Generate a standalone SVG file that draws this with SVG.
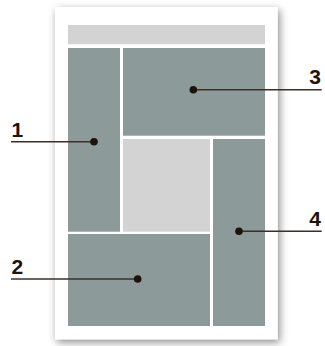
<svg xmlns="http://www.w3.org/2000/svg" width="325" height="346" viewBox="0 0 325 346">
<defs>
<filter id="sh" x="-20%" y="-20%" width="140%" height="140%">
<feDropShadow dx="2" dy="3" stdDeviation="4" flood-color="#000" flood-opacity="0.45"/>
</filter>
</defs>
<style>
.panel{fill:#8c9a99}
.light{fill:#d3d3d3}
.dot{fill:#1e120a}
.lead{stroke:#3a2f29;stroke-width:1.5;fill:none}
.lbl{font-family:"Liberation Sans",Arial,sans-serif;font-weight:bold;font-size:21px;fill:#1e120a}
</style>
<rect x="0" y="0" width="325" height="346" fill="#fff"/>
<g id="page">
<rect x="55" y="7" width="222.7" height="332.3" fill="#fff" filter="url(#sh)"/>
<rect class="light" x="68" y="25" width="197" height="19.3"/>
<rect class="light" x="123" y="139" width="87" height="92.7"/>
</g>
<g id="n1"><rect class="panel" x="68" y="48" width="52" height="183.7"/></g>
<g id="n3"><rect class="panel" x="123" y="48" width="142" height="87.7"/></g>
<g id="n4"><rect class="panel" x="213" y="139" width="52" height="187"/></g>
<g id="n2"><rect class="panel" x="68" y="234" width="142" height="92"/></g>
<g id="connectors">
<line class="lead" x1="11" y1="141.7" x2="94" y2="141.7"/>
<line class="lead" x1="11" y1="279" x2="137.7" y2="279"/>
<line class="lead" x1="193.3" y1="89.7" x2="321.7" y2="89.7"/>
<line class="lead" x1="239" y1="231.3" x2="321.7" y2="231.3"/>
<circle class="dot" cx="94" cy="141.7" r="3.8"/>
<circle class="dot" cx="137.7" cy="279" r="3.8"/>
<circle class="dot" cx="193.3" cy="89.7" r="3.8"/>
<circle class="dot" cx="239" cy="231.3" r="3.8"/>
</g>
<g id="labels">
<text class="lbl" x="11.5" y="136.5">1</text>
<text class="lbl" x="11.5" y="273.5">2</text>
<text class="lbl" x="321" y="84.3" text-anchor="end">3</text>
<text class="lbl" x="321" y="225.5" text-anchor="end">4</text>
</g>
</svg>
